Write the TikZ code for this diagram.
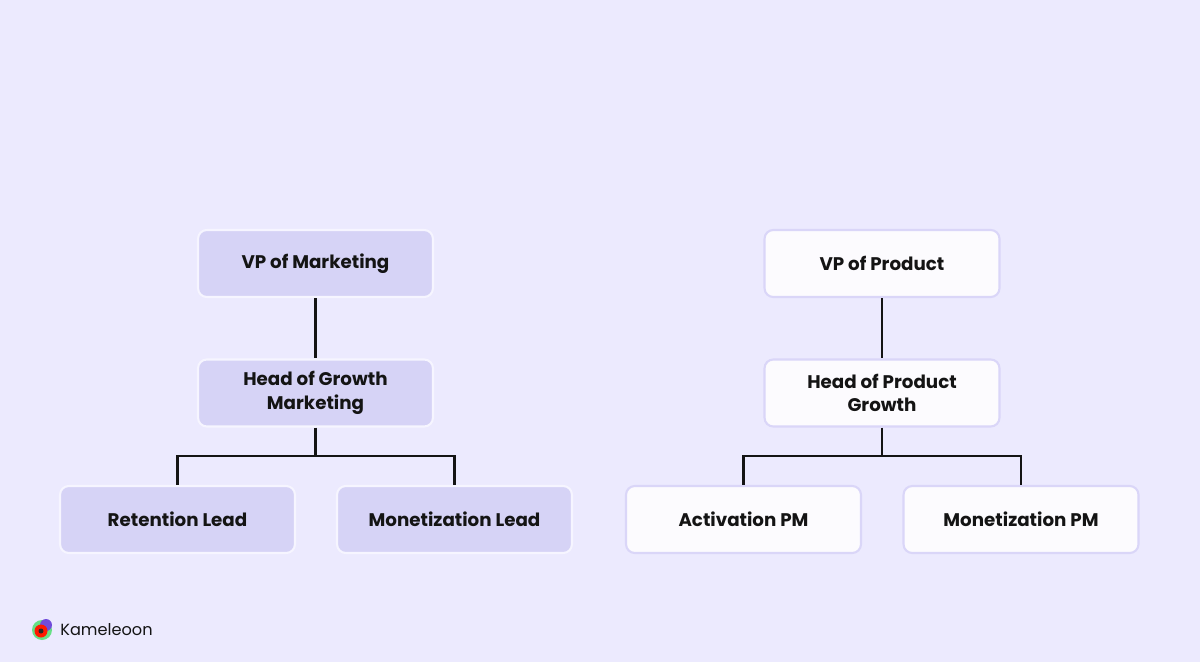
\documentclass[tikz,border=0pt]{standalone}
\usepackage{fontspec}
\setmainfont{Poppins}
\newfontfamily\popb{Poppins Bold}
\definecolor{bg}{HTML}{ECEAFE}
\definecolor{lav}{HTML}{D6D3F6}
\definecolor{wh}{HTML}{FCFBFE}
\definecolor{edgeL}{HTML}{F6F5FF}
\definecolor{edgeR}{HTML}{DAD6F8}
\definecolor{ink}{HTML}{141414}
\tikzset{
 box/.style={rounded corners=5pt, minimum width=4.7cm, minimum height=1.34cm, align=center, font=\popb\fontsize{10.4}{13.5}\selectfont, text=ink, line width=1.2pt},
 lbox/.style={box, fill=lav, draw=edgeL},
 rbox/.style={box, fill=wh, draw=edgeR},
 wire/.style={draw=ink, line width=1.4pt}
}
\begin{document}
\begin{tikzpicture}[x=0.02cm,y=-0.02cm]
\fill[bg] (0,0) rectangle (1200,662);
\useasboundingbox (0,0) rectangle (1200,662);
\node[lbox] (vpm) at (315.5,263.5) {VP of Marketing};
\node[lbox] (hgm) at (315.5,393) {Head of Growth\\Marketing};
\node[lbox] (ret) at (177.5,519.5) {Retention Lead};
\node[lbox] (mon) at (454.5,519.5) {Monetization Lead};
\node[rbox] (vpp) at (882,263.5) {VP of Product};
\node[rbox] (hpg) at (882,393) {Head of Product\\Growth};
\node[rbox] (act) at (743.5,519.5) {Activation PM};
\node[rbox] (mpm) at (1021,519.5) {Monetization PM};
\coordinate (busL) at (315.5,456);
\coordinate (busR) at (882,456);
\draw[wire] (vpm) -- (hgm);
\draw[wire] (hgm) -- (busL);
\draw[wire] (ret.north) |- (busL) -| (mon.north);
\draw[wire] (vpp) -- (hpg);
\draw[wire] (hpg) -- (busR);
\draw[wire] (act.north) |- (busR) -| (mpm.north);
% logo
\fill[green!60!teal!60] (42,630) circle (10);
\fill[blue!60!violet!70] (46,625) circle (6);
\fill[red!80!orange] (41,631) circle (6.5);
\fill[black!85] (41,631) circle (2.5);
\node[anchor=west, font=\fontsize{9.2}{10}\selectfont, text=ink, inner sep=0] (logo) at (60,630) {Kameleoon};
\end{tikzpicture}
\end{document}
